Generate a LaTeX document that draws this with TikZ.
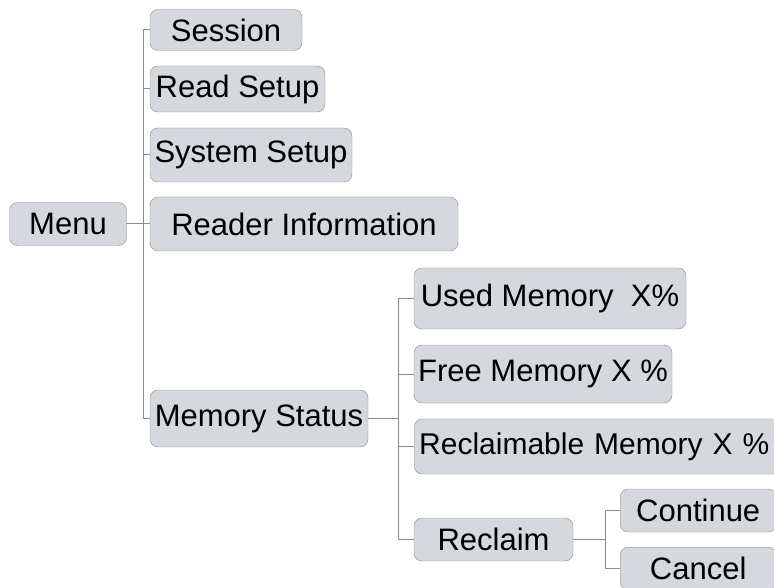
\documentclass[tikz,border=0pt]{standalone}
\usepackage{fontspec}
\setmainfont{Liberation Sans}
\usetikzlibrary{positioning}

\begin{document}
\begin{tikzpicture}[x=1pt, y=-1pt,
	font=\fontsize{31}{36}\selectfont,
	block/.style = { rectangle, rounded corners=8pt, draw=black!45,
	fill={rgb,255:red,213;green,217;blue,222}, inner sep=0pt, text centered },
	link/.style = { draw=black!45, line width=1pt } ]

  \useasboundingbox (0,0) rectangle (774,588);

  \node [name=menu, block, minimum width=117pt, minimum height=43pt]
	at (68,224) { Menu };

  % first level
  \node [name=session, block, minimum width=152pt, minimum height=41pt]
	at (226,30) { Session };
  \node [name=readsetup, block, minimum width=175pt, minimum height=46pt]
	at (237.5,89) { Read Setup };
  \node [name=syssetup, block, minimum width=202pt, minimum height=54pt]
	at (251,155) { System Setup };
  \node [name=readerinfo, block, minimum width=308pt, minimum height=54pt]
	at (304,224) { Reader Information };
  \node [name=memstatus, block, minimum width=218pt, minimum height=57pt]
	at (259,418.5) { Memory Status };

  % memory status
  \node [name=usedmem, block, minimum width=272pt, minimum height=61pt]
	at (550,298.5) { Used Memory~~X\% };
  \node [name=freemem, block, minimum width=258pt, minimum height=58pt]
	at (543,374) { Free Memory X \% };
  \node [name=reclaimmem, block, minimum width=376pt, minimum height=55pt,
	anchor=west, inner xsep=5pt, text width=366pt, align=left,
	font=\fontsize{30}{36}\selectfont]
	at (414,446.5) { Reclaimable Memory X \% };
  \node [name=reclaim, block, minimum width=159pt, minimum height=43pt]
	at (493.5,539.5) { Reclaim };

  % reclaim
  \node [name=continue, block, minimum width=156pt, minimum height=43pt,
	anchor=west] at (620,510.5) { Continue };
  \node [name=cancel, block, minimum width=156pt, minimum height=43pt,
	anchor=north west] at (620,547) { Cancel };

  \coordinate (trunk) at (143,224);
  \coordinate (memtrunk) at (398,418.5);
  \coordinate (recltrunk) at (605,539.5);

  \draw [link] (menu) -- (trunk);
  \draw [link] (trunk |- session) -- (trunk |- memstatus);
  \foreach \n in {session, readsetup, syssetup, readerinfo, memstatus}
	\draw [link] (trunk |- \n) -- (\n);

  \draw [link] (memstatus) -- (memtrunk);
  \draw [link] (memtrunk |- usedmem) -- (memtrunk |- reclaim);
  \foreach \n in {usedmem, freemem, reclaimmem, reclaim}
	\draw [link] (memtrunk |- \n) -- (\n);

  \draw [link] (reclaim) -- (recltrunk);
  \draw [link] (recltrunk |- continue) -- (recltrunk |- cancel.center);
  \draw [link] (recltrunk |- continue) -- (continue);
  \draw [link] (recltrunk |- cancel.center) -- (cancel);
\end{tikzpicture}
\end{document}
